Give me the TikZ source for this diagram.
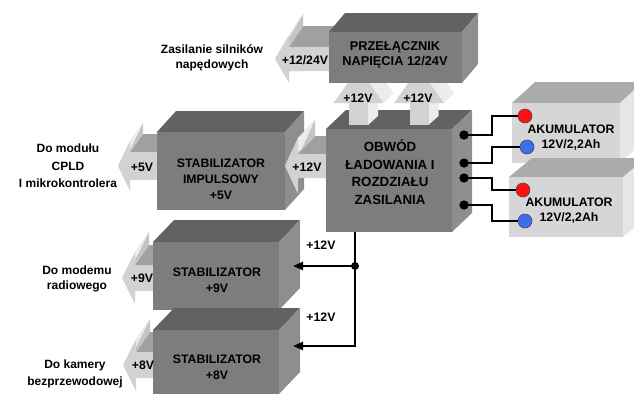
\documentclass[tikz,border=0pt]{standalone}
\usepackage{fontspec}
\setmainfont{Liberation Sans}
\usetikzlibrary{arrows.meta,calc}
\definecolor{dtopc}{HTML}{626262}
\definecolor{dfrontc}{HTML}{7D7D7D}
\definecolor{dsidec}{HTML}{8E8E8E}
\definecolor{ltopc}{HTML}{ABABAB}
\definecolor{lfrontc}{HTML}{D6D6D6}
\definecolor{lsidec}{HTML}{E6E6E6}
\definecolor{afrontc}{HTML}{D2D2D2}
\definecolor{abodyc}{HTML}{A0A0A0}
\definecolor{aslantc}{HTML}{ECECEC}
\definecolor{abackc}{HTML}{C4C4C4}
\definecolor{redc}{HTML}{FF1010}
\definecolor{bluec}{HTML}{3A6EF0}
\tikzset{
  dtop/.style={fill=dtopc}, dside/.style={fill=dsidec},
  dfront/.style={fill=dfrontc, inner sep=0pt, outer sep=0pt},
  ltop/.style={fill=ltopc}, lside/.style={fill=lsidec},
  lfront/.style={fill=lfrontc, inner sep=0pt, outer sep=0pt},
  afront/.style={fill=afrontc}, abody/.style={fill=abodyc},
  aslant/.style={fill=aslantc}, aback/.style={fill=abackc},
  txt/.style={align=center, inner sep=0pt, text=black},
  wire/.style={draw=black, line width=2pt},
  bus/.style={draw=black, line width=2.4pt, -{Triangle[length=10pt,width=8pt]}},
  pdot/.style={circle, fill=black, inner sep=0pt, minimum size=9pt},
  jdot/.style={circle, fill=black, inner sep=0pt, minimum size=8pt},
  rterm/.style={circle, fill=redc, draw=black!70, line width=0.6pt, inner sep=0pt, minimum size=14pt},
  bterm/.style={circle, fill=bluec, draw=black!70, line width=0.6pt, inner sep=0pt, minimum size=14pt}
}
% name x1 y1 x2 y2 dx dy kind(d/l)
\newcommand{\cube}[8]{%
  \fill[#8top] (#2,#3) -- (#4,#3) -- ({#4+#6},{#3-#7}) -- ({#2+#6},{#3-#7}) -- cycle;
  \fill[#8side] (#4,#3) -- ({#4+#6},{#3-#7}) -- ({#4+#6},{#5-#7}) -- (#4,#5) -- cycle;
  \node[#8front, anchor=north west, minimum width={#4-#2}, minimum height={#5-#3}] (#1) at (#2,#3) {};
}
% tipx yc xh H h xb dx dy
\newcommand{\larr}[8]{%
  \fill[abody] (#3,{#2-#5}) -- (#6,{#2-#5}) -- ({#6+#7},{#2-#5-#8}) -- ({#3+#7},{#2-#5-#8}) -- cycle;
  \fill[aback] (#3,{#2-#4}) -- (#3,{#2-#5}) -- ({#3+#7},{#2-#5-#8}) -- ({#3+#7},{#2-#4-#8}) -- cycle;
  \fill[aslant] (#1,#2) -- (#3,{#2-#4}) -- ({#3+#7},{#2-#4-#8}) -- ({#1+#7},{#2-#8}) -- cycle;
  \fill[afront] (#1,#2) -- (#3,{#2-#4}) -- (#3,{#2-#5}) -- (#6,{#2-#5}) -- (#6,{#2+#5}) -- (#3,{#2+#5}) -- (#3,{#2+#4}) -- cycle;
}
% up arrow, body centre x
\newcommand{\uarr}[1]{%
  \fill[aslant] ({#1+25},103) -- (#1,68) -- ({#1+10},58) -- ({#1+35},93) -- cycle;
  \fill[aslant] ({#1+9.5},103) -- ({#1+19.5},93) -- ({#1+19.5},116) -- ({#1+9.5},125) -- cycle;
  \fill[afront] ({#1-9.5},100) rectangle ({#1+9.5},125);
  \fill[afront] ({#1-25},103) -- ({#1+25},103) -- (#1,68) -- cycle;
}
\begin{document}
\begin{tikzpicture}[x=1pt, y=-1pt, font=\bfseries\fontsize{12.3}{16}\selectfont]
\useasboundingbox (0,0) rectangle (634,394);
% batteries
\cube{ak1}{512}{103}{620}{163}{23}{21}{l}
\cube{ak2}{509}{177}{623}{237}{23}{19}{l}
% impulse stabilizer
\larr{118}{166}{130}{25}{14}{157}{13}{18}
\cube{sti}{157}{132}{285}{210}{19}{21}{d}
\larr{285}{166}{298}{28}{12}{326}{17}{18}
% charging circuit
\cube{obw}{326}{129}{452}{232}{20}{19}{d}
\uarr{358.5}
\uarr{419}
% switch
\larr{275}{59}{289}{24}{12}{329}{14}{21}
\cube{prz}{329}{32}{462}{83}{16}{19}{d}
% 9V and 8V stabilizers
\larr{122}{278}{135}{26}{13}{153}{14}{20}
\cube{st9}{153}{242}{279}{310}{21}{22}{d}
\larr{123}{365}{136}{26}{13}{153}{14}{20}
\cube{st8}{153}{330}{279}{394}{21}{22}{d}
% bus
\coordinate (bt) at ($(obw.south west)+(29,0)$);
\node[jdot] (j) at (355,266) {};
\coordinate (bb) at (355,346);
\coordinate (in9) at (293,266);
\coordinate (in8) at (293,346);
\draw[bus] (bt) -- (bb) -- (in8);
\draw[bus] (j.center) -- (in9);
\node[txt] (l12a) at (321,245) {+12V};
\node[txt] (l12b) at (321,317) {+12V};
% terminals and wires
\node[pdot] (d1) at (464,135) {};
\node[pdot] (d2) at (464,163) {};
\node[pdot] (d3) at (464,178) {};
\node[pdot] (d4) at (464,205) {};
\node[rterm] (r1) at (525,116) {};
\node[bterm] (b1) at (527,147) {};
\node[rterm] (r2) at (523,190) {};
\node[bterm] (b2) at (525,221) {};
\draw[wire] (d1.center) -- ++(28,0) |- (r1);
\draw[wire] (d2.center) -- ++(28,0) |- (b1);
\draw[wire] (d3.center) -- ++(28,0) |- (r2);
\draw[wire] (d4.center) -- ++(28,0) |- (b2);
\node[pdot] at (d1) {};
\node[pdot] at (d2) {};
\node[pdot] at (d3) {};
\node[pdot] at (d4) {};
% box texts
\node[txt, font=\bfseries\fontsize{12.8}{15}\selectfont] (przt) at (395,55) {PRZEŁĄCZNIK\\NAPIĘCIA 12/24V};
\node[txt, font=\bfseries\fontsize{13.3}{17.5}\selectfont] (obwt) at (390,172) {OBWÓD\\ŁADOWANIA I\\ROZDZIAŁU\\ZASILANIA};
\node[txt] (stit) at (221,179) {STABILIZATOR\\IMPULSOWY\\+5V};
\node[txt] (st9t) at (217,280) {STABILIZATOR\\+9V};
\node[txt] (st8t) at (217,367) {STABILIZATOR\\+8V};
\node[txt, font=\bfseries\fontsize{12.3}{15}\selectfont] (ak1t) at (571,138) {AKUMULATOR\\12V/2,2Ah};
\node[txt, font=\bfseries\fontsize{12.3}{15}\selectfont] (ak2t) at (569,211) {AKUMULATOR\\12V/2,2Ah};
% arrow texts
\node[txt] (v1224) at (305,60) {+12/24V};
\node[txt] (v12a) at (358,98) {+12V};
\node[txt] (v12b) at (418,98) {+12V};
\node[txt] (v12c) at (307,167) {+12V};
\node[txt] (v5) at (142,167) {+5V};
\node[txt] (v9) at (142,278) {+9V};
\node[txt] (v8) at (143,365) {+8V};
% outside labels
\node[txt, font=\bfseries\fontsize{12}{15}\selectfont] (zas) at (212,58) {Zasilanie silników\\napędowych};
\node[txt, font=\bfseries\fontsize{12}{17.5}\selectfont] (cpld) at (68,166) {Do modułu\\CPLD\\I mikrokontrolera};
\node[txt, font=\bfseries\fontsize{12}{15}\selectfont] (mod) at (77,279) {Do modemu\\radiowego};
\node[txt, font=\bfseries\fontsize{12}{17}\selectfont] (kam) at (75,374) {Do kamery\\bezprzewodowej};
\end{tikzpicture}
\end{document}
